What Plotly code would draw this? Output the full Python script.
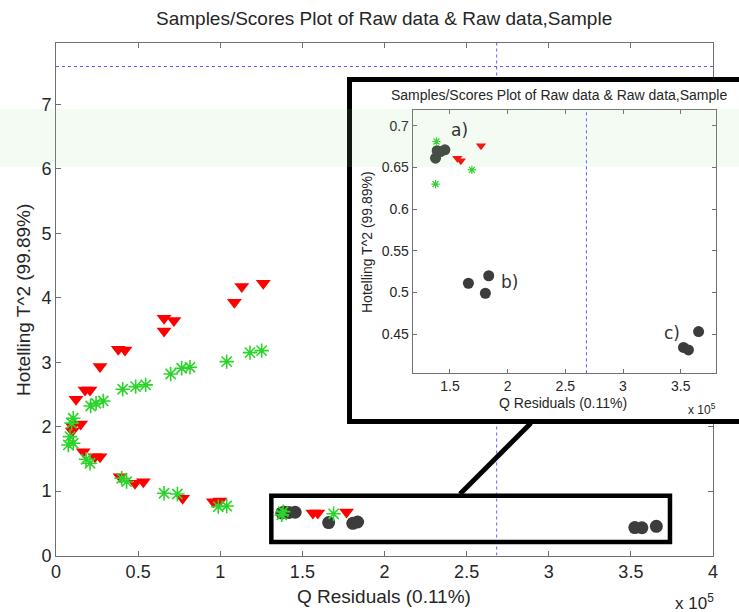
import plotly.graph_objects as go

W, H = 739, 612

# Q residuals (units of 1e5) and Hotelling T^2 per sample class
red_q = [1.262, 1.131, 1.086, 0.658, 0.718, 0.658, 0.379, 0.420, 0.268, 0.177,
         0.207, 0.122, 0.099, 0.150, 0.099, 0.166, 0.237, 0.268, 0.390, 0.481,
         0.532, 0.771, 0.958, 0.998, 1.564, 1.594, 1.769]
red_t2 = [4.227, 4.174, 3.932, 3.683, 3.646, 3.486, 3.202, 3.191, 2.932, 2.570,
          2.570, 2.425, 2.011, 2.042, 1.933, 1.612, 1.534, 1.534, 1.224, 1.121,
          1.146, 0.888, 0.835, 0.846, 0.661, 0.658, 0.676]

green_q = [1.252, 1.181, 1.039, 0.816, 0.765, 0.698, 0.546, 0.485, 0.406, 0.288,
           0.244, 0.211, 0.105, 0.095, 0.085, 0.105, 0.075, 0.183, 0.207, 0.400,
           0.430, 0.658, 0.739, 0.988, 1.039, 1.383, 1.375, 1.690]
green_t2 = [3.180, 3.149, 3.009, 2.922, 2.907, 2.818, 2.648, 2.621, 2.581, 2.399,
            2.363, 2.321, 2.130, 2.053, 1.845, 1.742, 1.716, 1.494, 1.432, 1.199,
            1.146, 0.966, 0.955, 0.758, 0.769, 0.681, 0.630, 0.647]

grey_q = [1.375, 1.389, 1.418, 1.456, 1.660, 1.836, 1.807, 3.524, 3.567, 3.655]
grey_t2 = [0.661, 0.670, 0.669, 0.671, 0.511, 0.520, 0.499, 0.434, 0.431, 0.453]

# confidence limits
q_limit = 2.683
t2_limit = 7.59

main_xticks = [0, 0.5, 1, 1.5, 2, 2.5, 3, 3.5, 4]
main_xticktext = ["0", "0.5", "1", "1.5", "2", "2.5", "3", "3.5", "4"]
main_yticks = [0, 1, 2, 3, 4, 5, 6, 7]
inset_xticks = [1.5, 2, 2.5, 3, 3.5]
inset_xticktext = ["1.5", "2", "2.5", "3", "3.5"]
inset_yticks = [0.45, 0.5, 0.55, 0.6, 0.65, 0.7]
inset_yticktext = ["0.45", "0.5", "0.55", "0.6", "0.65", "0.7"]

group_labels = ["a)", "b)", "c)"]
group_q = [1.586, 2.014, 3.422]
group_t2 = [0.695, 0.5127, 0.4517]

title_text = "Samples/Scores Plot of Raw data & Raw data,Sample"
x_title = "Q Residuals (0.11%)"
y_title = "Hotelling T^2 (99.89%)"

FONT = "Liberation Sans, Arial, sans-serif"
AXCOL = "#707070"
TXT = "#262626"
RED = "#ff0000"
GREEN = "#2bd42b"
GREY = "#3c3c3c"
LIMIT = "rgb(90,90,255)"


def fx(p):
    return p / W


def fy(p):
    return 1 - p / H


fig = go.Figure()


def add_samples(xa, ya, s_circle, s_tri, s_star, star_w):
    fig.add_trace(go.Scatter(x=grey_q, y=grey_t2, mode="markers", xaxis=xa, yaxis=ya,
                             marker=dict(symbol="circle", size=s_circle, color=GREY),
                             showlegend=False, hoverinfo="skip"))
    fig.add_trace(go.Scatter(x=red_q, y=red_t2, mode="markers", xaxis=xa, yaxis=ya,
                             marker=dict(symbol="triangle-down", size=s_tri, color=RED),
                             showlegend=False, hoverinfo="skip"))
    fig.add_trace(go.Scatter(x=green_q, y=green_t2, mode="markers", xaxis=xa, yaxis=ya,
                             marker=dict(symbol="asterisk-open", size=s_star, color=GREEN,
                                         line=dict(color=GREEN, width=star_w)),
                             showlegend=False, hoverinfo="skip"))


# main scores plot
add_samples("x", "y", 13, 13, 12, 1.6)

# blank white panel behind the magnified view
fig.add_trace(go.Scatter(x=[None], y=[None], xaxis="x2", yaxis="y2",
                         showlegend=False, hoverinfo="skip"))

# magnified view
add_samples("x3", "y3", 11, 9, 7, 1.2)

main_ymax = 7.96
inset_xr = [1.177, 3.806]
inset_yr = [0.403, 0.7188]

shapes = [
    # limits in the main plot
    dict(type="line", xref="x", yref="y", x0=q_limit, x1=q_limit, y0=0, y1=main_ymax,
         line=dict(color=LIMIT, width=1, dash="dot"), layer="below"),
    dict(type="line", xref="x", yref="y", x0=0, x1=4, y0=t2_limit, y1=t2_limit,
         line=dict(color=LIMIT, width=1, dash="dot"), layer="below"),
    # limit in the magnified view
    dict(type="line", xref="x3", yref="y3", x0=q_limit, x1=q_limit,
         y0=inset_yr[0], y1=inset_yr[1],
         line=dict(color=LIMIT, width=1, dash="dot"), layer="below"),
    # region being magnified
    dict(type="rect", xref="x", yref="y", x0=1.311, x1=3.738, y0=0.21, y1=0.929,
         line=dict(color="black", width=4.5), fillcolor="rgba(0,0,0,0)", layer="above"),
    # leader line
    dict(type="line", xref="paper", yref="paper", x0=fx(460), y0=fy(494),
         x1=fx(531), y1=fy(423), line=dict(color="black", width=5), layer="above"),
    # frame of the magnified view
    dict(type="rect", xref="paper", yref="paper", x0=fx(349.5), x1=fx(760),
         y0=fy(421.5), y1=fy(79.5), line=dict(color="black", width=5),
         fillcolor="rgba(0,0,0,0)", layer="above"),
    # faint green band
    dict(type="rect", xref="paper", yref="paper", x0=0, x1=1, y0=fy(167), y1=fy(109),
         line=dict(width=0), fillcolor="rgba(150,220,140,0.11)", layer="above"),
]

annotations = [
    dict(text=title_text, x=fx(384), y=fy(18), xref="paper", yref="paper",
         showarrow=False, font=dict(family=FONT, size=19, color=TXT),
         xanchor="center", yanchor="middle"),
    dict(text=x_title, x=fx(384), y=fy(596), xref="paper", yref="paper",
         showarrow=False, font=dict(family=FONT, size=19, color=TXT),
         xanchor="center", yanchor="middle"),
    dict(text=y_title, x=fx(23), y=fy(300), xref="paper", yref="paper", textangle=-90,
         showarrow=False, font=dict(family=FONT, size=19, color=TXT),
         xanchor="center", yanchor="middle"),
    dict(text="x 10<sup>5</sup>", x=fx(716), y=fy(602), xref="paper", yref="paper",
         showarrow=False, font=dict(family=FONT, size=17, color=TXT),
         xanchor="right", yanchor="middle"),
    dict(text=title_text, x=fx(559), y=fy(95), xref="paper", yref="paper",
         showarrow=False, font=dict(family=FONT, size=14, color=TXT),
         xanchor="center", yanchor="middle"),
    dict(text=x_title, x=fx(563), y=fy(403), xref="paper", yref="paper",
         showarrow=False, font=dict(family=FONT, size=14, color=TXT),
         xanchor="center", yanchor="middle"),
    dict(text=y_title, x=fx(367), y=fy(242), xref="paper", yref="paper", textangle=-90,
         showarrow=False, font=dict(family=FONT, size=14, color=TXT),
         xanchor="center", yanchor="middle"),
    dict(text="x 10<sup>5</sup>", x=fx(718), y=fy(409), xref="paper", yref="paper",
         showarrow=False, font=dict(family=FONT, size=12, color=TXT),
         xanchor="right", yanchor="middle"),
]
for lab, qx, ty in zip(group_labels, group_q, group_t2):
    annotations.append(dict(text=lab, x=qx, y=ty, xref="x3", yref="y3", showarrow=False,
                            font=dict(family="DejaVu Sans, sans-serif", size=17, color="#333333"),
                            xanchor="center", yanchor="middle"))


def axis_style(size, ticklen):
    return dict(showline=True, linecolor=AXCOL, linewidth=1, mirror="ticks",
                ticks="inside", ticklen=ticklen, tickcolor=AXCOL, tickwidth=1,
                showgrid=False, zeroline=False, automargin=False,
                tickfont=dict(family=FONT, size=size, color=TXT))


fig.update_layout(
    width=W, height=H, autosize=False,
    margin=dict(l=0, r=0, t=0, b=0),
    paper_bgcolor="white", plot_bgcolor="white",
    xaxis=dict(domain=[fx(56), fx(713)], range=[0, 4], anchor="y",
               tickvals=main_xticks, ticktext=main_xticktext, **axis_style(18, 5)),
    yaxis=dict(domain=[fy(555.5), fy(42.7)], range=[0, main_ymax], anchor="x",
               tickvals=main_yticks, **axis_style(18, 5)),
    xaxis2=dict(domain=[fx(349.5), 1.0], range=[0, 1], anchor="y2", visible=False),
    yaxis2=dict(domain=[fy(421.5), fy(79.5)], range=[0, 1], anchor="x2", visible=False),
    xaxis3=dict(domain=[fx(412.7), fx(716)], range=inset_xr, anchor="y3",
                tickvals=inset_xticks, ticktext=inset_xticktext, **axis_style(14, 4)),
    yaxis3=dict(domain=[fy(373.3), fy(110)], range=inset_yr, anchor="x3",
                tickvals=inset_yticks, ticktext=inset_yticktext, **axis_style(14, 4)),
    shapes=shapes,
    annotations=annotations,
)

fig.write_html("out.html")
